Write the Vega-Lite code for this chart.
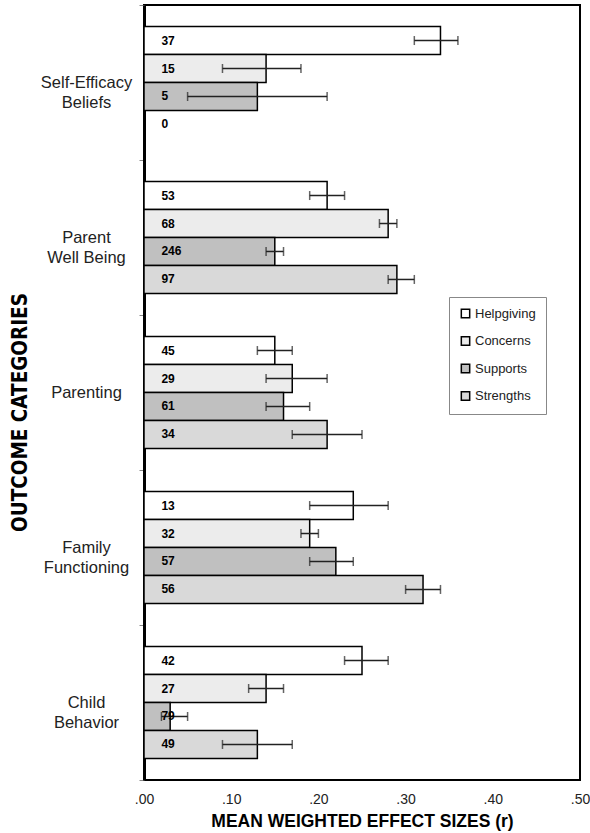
{
  "$schema": "https://vega.github.io/schema/vega-lite/v6.json",
  "autosize": "none",
  "width": 436,
  "height": 775,
  "padding": {"left": 144, "top": 5, "right": 10, "bottom": 53},
  "background": "white",
  "config": {
    "view": {"stroke": "black", "strokeWidth": 2},
    "font": "Liberation Sans"
  },
  "data": {
    "values": [
      {"cat": "Self-Efficacy Beliefs", "type": "Helpgiving", "r": 0.34, "lo": 0.31, "hi": 0.36, "n": 37},
      {"cat": "Self-Efficacy Beliefs", "type": "Concerns", "r": 0.14, "lo": 0.09, "hi": 0.18, "n": 15},
      {"cat": "Self-Efficacy Beliefs", "type": "Supports", "r": 0.13, "lo": 0.05, "hi": 0.21, "n": 5},
      {"cat": "Self-Efficacy Beliefs", "type": "Strengths", "r": 0, "lo": null, "hi": null, "n": 0},
      {"cat": "Parent Well Being", "type": "Helpgiving", "r": 0.21, "lo": 0.19, "hi": 0.23, "n": 53},
      {"cat": "Parent Well Being", "type": "Concerns", "r": 0.28, "lo": 0.27, "hi": 0.29, "n": 68},
      {"cat": "Parent Well Being", "type": "Supports", "r": 0.15, "lo": 0.14, "hi": 0.16, "n": 246},
      {"cat": "Parent Well Being", "type": "Strengths", "r": 0.29, "lo": 0.28, "hi": 0.31, "n": 97},
      {"cat": "Parenting", "type": "Helpgiving", "r": 0.15, "lo": 0.13, "hi": 0.17, "n": 45},
      {"cat": "Parenting", "type": "Concerns", "r": 0.17, "lo": 0.14, "hi": 0.21, "n": 29},
      {"cat": "Parenting", "type": "Supports", "r": 0.16, "lo": 0.14, "hi": 0.19, "n": 61},
      {"cat": "Parenting", "type": "Strengths", "r": 0.21, "lo": 0.17, "hi": 0.25, "n": 34},
      {"cat": "Family Functioning", "type": "Helpgiving", "r": 0.24, "lo": 0.19, "hi": 0.28, "n": 13},
      {"cat": "Family Functioning", "type": "Concerns", "r": 0.19, "lo": 0.18, "hi": 0.20, "n": 32},
      {"cat": "Family Functioning", "type": "Supports", "r": 0.22, "lo": 0.19, "hi": 0.24, "n": 57},
      {"cat": "Family Functioning", "type": "Strengths", "r": 0.32, "lo": 0.30, "hi": 0.34, "n": 56},
      {"cat": "Child Behavior", "type": "Helpgiving", "r": 0.25, "lo": 0.23, "hi": 0.28, "n": 42},
      {"cat": "Child Behavior", "type": "Concerns", "r": 0.14, "lo": 0.12, "hi": 0.16, "n": 27},
      {"cat": "Child Behavior", "type": "Supports", "r": 0.03, "lo": 0.02, "hi": 0.05, "n": 79},
      {"cat": "Child Behavior", "type": "Strengths", "r": 0.13, "lo": 0.09, "hi": 0.17, "n": 49}
    ]
  },
  "encoding": {
    "y": {
      "field": "cat", "type": "nominal",
      "sort": ["Self-Efficacy Beliefs", "Parent Well Being", "Parenting", "Family Functioning", "Child Behavior"],
      "scale": {"paddingInner": 0, "paddingOuter": 0},
      "title": "OUTCOME CATEGORIES",
      "axis": {
        "domainColor": "black", "domainWidth": 3,
        "tickBand": "extent", "tickColor": "#888", "tickSize": 5, "tickWidth": 1,
        "labelAlign": "center", "labelPadding": 53, "labelFontSize": 16.5, "labelColor": "#222",
        "labelExpr": "datum.value == 'Self-Efficacy Beliefs' ? ['Self-Efficacy', 'Beliefs'] : datum.value == 'Parent Well Being' ? ['Parent', 'Well Being'] : datum.value == 'Family Functioning' ? ['Family', 'Functioning'] : datum.value == 'Child Behavior' ? ['Child', 'Behavior'] : datum.value",
        "labelLineHeight": 20,
        "titleFont": "DejaVu Sans Condensed, Liberation Sans", "titleFontSize": 20.5, "titleFontWeight": "bold", "titleColor": "black",
        "titleX": -124, "titleY": 407, "titleAlign": "center", "titleBaseline": "middle", "titleAngle": -90
      }
    },
    "yOffset": {
      "field": "type",
      "sort": ["Helpgiving", "Concerns", "Supports", "Strengths"],
      "scale": {"paddingInner": 0, "paddingOuter": 0.77}
    }
  },
  "layer": [
    {
      "mark": {"type": "bar", "stroke": "black", "strokeWidth": 1.5},
      "encoding": {
        "x": {
          "field": "r", "type": "quantitative",
          "scale": {"domain": [0, 0.5], "nice": false},
          "title": "MEAN WEIGHTED EFFECT SIZES (r)",
          "axis": {
            "values": [0, 0.1, 0.2, 0.3, 0.4, 0.5],
            "labelExpr": "replace(format(datum.value, '.2f'), '0.', '.')",
            "labelFlush": false,
            "grid": false, "ticks": false, "domain": false,
            "labelPadding": 12, "labelFontSize": 14, "labelColor": "#222",
            "titleFontSize": 17.5, "titleFontWeight": "bold", "titleColor": "black", "titlePadding": 6
          }
        },
        "fill": {
          "field": "type", "type": "nominal",
          "sort": ["Helpgiving", "Concerns", "Supports", "Strengths"],
          "scale": {"domain": ["Helpgiving", "Concerns", "Supports", "Strengths"], "range": ["#ffffff", "#ececec", "#c0c0c0", "#d9d9d9"]},
          "legend": {
            "title": null, "orient": "none", "legendX": 305, "legendY": 292,
            "symbolType": "square", "symbolSize": 70, "symbolStrokeColor": "black", "symbolStrokeWidth": 1.5,
            "labelFontSize": 13, "labelColor": "#222", "rowPadding": 12.5,
            "strokeColor": "#888", "padding": 10, "fillColor": "white", "labelOffset": 3
          }
        }
      }
    },
    {
      "mark": {"type": "rule", "color": "#222", "strokeWidth": 1.5},
      "encoding": {
        "x": {"field": "lo", "type": "quantitative"},
        "x2": {"field": "hi"}
      }
    },
    {
      "mark": {"type": "tick", "color": "#222", "thickness": 1.5, "size": 9},
      "encoding": {"x": {"field": "lo", "type": "quantitative"}}
    },
    {
      "mark": {"type": "tick", "color": "#222", "thickness": 1.5, "size": 9},
      "encoding": {"x": {"field": "hi", "type": "quantitative"}}
    },
    {
      "mark": {"type": "text", "align": "left", "baseline": "middle", "fontSize": 12, "fontWeight": "bold", "color": "black"},
      "encoding": {
        "x": {"datum": 0.02, "type": "quantitative"},
        "text": {"field": "n", "type": "quantitative"}
      }
    }
  ]
}
